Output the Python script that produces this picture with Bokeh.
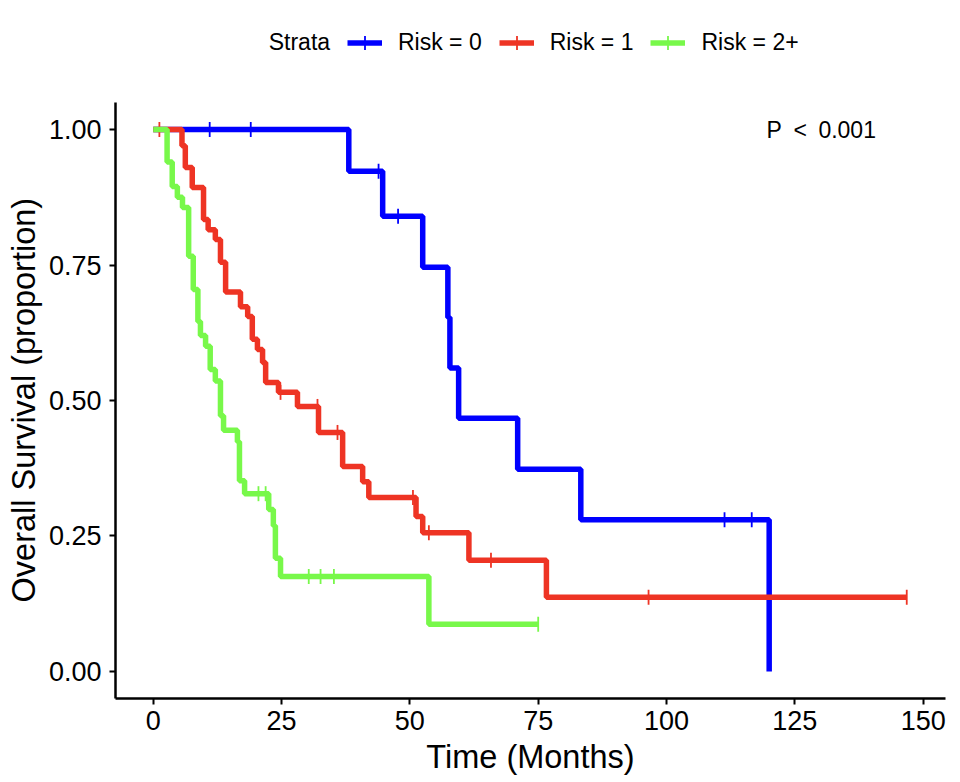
import numpy as np
from bokeh.plotting import figure
from bokeh.models import Range1d, Legend, LegendItem, FixedTicker, PrintfTickFormatter, Label
from bokeh.embed import file_html
from bokeh.resources import INLINE

# ---- data ----
strata = ["Risk = 0", "Risk = 1", "Risk = 2+"]
colors = ["#0000FF", "#EE3424", "#78F84A"]

blue_t = [0, 38.1, 44.7, 52.5, 57.4, 57.8, 59.5, 71.0, 83.3, 120.0]
blue_s = [1.0, 0.923, 0.840, 0.746, 0.653, 0.560, 0.467, 0.373, 0.280, 0.0]
blue_cens = [11.0, 19.0, 43.9, 47.7, 111.3, 116.6]

red_t = [0, 5.6, 6.25, 7.6, 9.8, 10.7, 12.1, 13.1, 14.1, 17.0, 18.4, 19.3, 20.3, 21.3, 21.9,
         24.4, 28.1, 32.2, 36.9, 40.8, 42.0, 51.2, 52.5, 61.5, 76.6, 146.8]
red_s = [1.0, 0.97, 0.93, 0.893, 0.834, 0.815, 0.797, 0.755, 0.700, 0.673, 0.655, 0.613, 0.594, 0.570, 0.533,
         0.515, 0.489, 0.441, 0.378, 0.350, 0.321, 0.286, 0.256, 0.205, 0.137, 0.137]
red_cens = [1.2, 24.8, 32.0, 35.9, 50.6, 53.7, 65.8, 96.5, 146.8]

green_t = [0, 2.7, 3.7, 4.7, 5.7, 6.9, 7.8, 8.7, 9.2, 10.2, 11.1, 12.1, 13.1, 13.7, 16.4, 16.8, 17.8,
           22.5, 23.4, 23.8, 24.8, 53.7, 75.0]
green_s = [1.0, 0.940, 0.895, 0.875, 0.856, 0.766, 0.705, 0.646, 0.620, 0.600, 0.557, 0.536, 0.472, 0.445,
           0.424, 0.352, 0.328, 0.299, 0.269, 0.209, 0.175, 0.087, 0.087]
green_cens = [20.5, 21.9, 30.3, 32.6, 35.2, 75.0]

x_ticks = [0, 25, 50, 75, 100, 125, 150]
y_ticks = [0.0, 0.25, 0.50, 0.75, 1.00]
legend_title = "Strata"
y_title = "Overall Survival (proportion)"
x_title = "Time (Months)"
p_text = "P\u2002<\u20020.001"
p_text_pos = (119.5, 1.0)

FONT = "Liberation Sans"
Y_LO, Y_HI = -0.05, 1.05
Y_TOP = 1.2013   # extra room above the panel for the legend row

p = figure(width=960, height=782, output_backend="svg", toolbar_location=None,
           x_range=Range1d(-7.35, 154.35), y_range=Range1d(Y_LO, Y_TOP),
           min_border_left=115, min_border_right=15, min_border_top=20, min_border_bottom=84)
p.xgrid.visible = False
p.ygrid.visible = False
p.outline_line_color = None

for ax in (p.xaxis, p.yaxis):
    ax.axis_line_width = 2.5
    ax.axis_line_color = "black"
    ax.major_tick_line_color = "black"
    ax.major_tick_line_width = 2
    ax.major_tick_in = 0
    ax.major_tick_out = 6
    ax.minor_tick_line_color = None
    ax.major_label_text_font = FONT
    ax.major_label_text_font_size = "27px"
    ax.major_label_text_color = "black"
    ax.axis_label_text_font = FONT
    ax.axis_label_text_font_size = "32.5px"
    ax.axis_label_text_font_style = "normal"
    ax.axis_label_text_color = "black"

p.yaxis.bounds = (Y_LO, Y_HI)
p.xaxis.ticker = FixedTicker(ticks=x_ticks)
p.yaxis.ticker = FixedTicker(ticks=y_ticks)
p.yaxis.formatter = PrintfTickFormatter(format="%.2f")
p.xaxis.axis_label = x_title
# trailing no-break spaces keep the visible title centred on the panel rather than on the legend row
p.yaxis.axis_label = y_title + "\u00a0" * 9
p.xaxis.major_label_standoff = 6
p.yaxis.major_label_standoff = 8
p.xaxis.axis_label_standoff = 6
p.yaxis.axis_label_standoff = 4

items = []
for name, col, t, s, c in zip(strata, colors, [blue_t, red_t, green_t], [blue_s, red_s, green_s],
                              [blue_cens, red_cens, green_cens]):
    t = np.array(t, dtype=float)
    s = np.array(s, dtype=float)
    r1 = p.step(t, s, mode="after", line_color=col, line_width=5.5)
    c = np.array(c, dtype=float)
    idx = np.searchsorted(t, c, side="right") - 1
    cy = s[idx]
    p.scatter(c, cy, marker="dash", angle=np.pi / 2, size=15, line_color=col, line_width=1.8)
    # legend key: "+" censor symbol (hidden on the plot itself)
    r3 = p.scatter(c, cy, marker="cross", size=14, line_color=col, line_width=1.8, visible=False)
    items.append(LegendItem(label=name, renderers=[r1, r3]))

legend = Legend(items=items, orientation="horizontal",
                location=(232, 638), padding=0, margin=0, spacing=17, label_standoff=16,
                glyph_width=35, glyph_height=35,
                border_line_color=None, background_fill_alpha=0,
                inactive_fill_alpha=0)
legend.label_text_font = FONT
legend.label_text_font_size = "23px"
legend.label_text_color = "black"
p.add_layout(legend, "center")

p.add_layout(Label(x=22.5, y=1.162, text=legend_title, text_font=FONT,
                   text_font_size="23px", text_baseline="middle", text_align="left", text_color="black"))

p.add_layout(Label(x=p_text_pos[0], y=p_text_pos[1], text=p_text, text_font=FONT,
                   text_font_size="23px", text_baseline="middle", text_align="left", text_color="black"))

open("out.html", "w").write(file_html(p, INLINE))
